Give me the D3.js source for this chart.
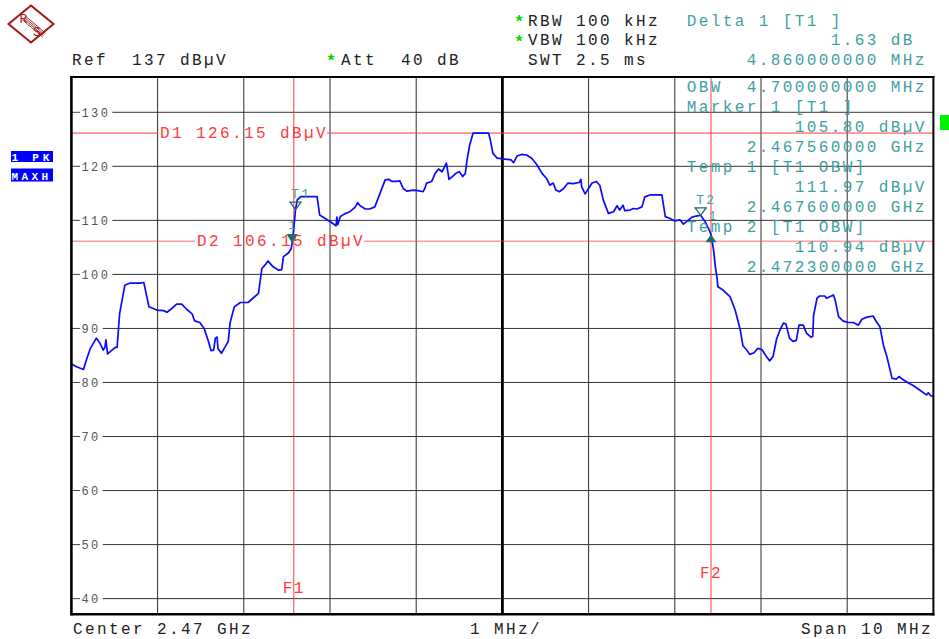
<!DOCTYPE html>
<html><head><meta charset="utf-8">
<script src="https://cdn.jsdelivr.net/npm/d3@7"></script>
<style>
body{margin:0;background:#fff;}
svg{display:block;}
text{font-family:"Liberation Mono","DejaVu Sans Mono",monospace;white-space:pre;}
</style></head><body>
<svg id="c" width="949" height="639"></svg>
<script>
// Trace 1 (1 PK, MAXH): frequency offset from the 2465 MHz start, in MHz
const freqMHz = [
  0.00,0.06,0.14,0.18,0.22,0.29,0.33,0.37,0.39,0.40,
  0.42,0.45,0.51,0.53,0.56,0.62,0.68,0.80,0.84,0.90,
  0.99,1.07,1.11,1.15,1.22,1.28,1.34,1.40,1.43,1.49,
  1.54,1.59,1.62,1.65,1.67,1.69,1.70,1.74,1.78,1.82,
  1.84,1.89,1.96,2.05,2.17,2.21,2.25,2.28,2.34,2.40,
  2.44,2.46,2.52,2.55,2.56,2.58,2.60,2.62,2.66,2.85,
  2.88,2.94,3.00,3.07,3.08,3.09,3.12,3.17,3.23,3.29,
  3.32,3.35,3.41,3.46,3.52,3.58,3.64,3.68,3.72,3.77,
  3.81,3.85,3.89,3.97,4.02,4.08,4.10,4.12,4.18,4.22,
  4.26,4.30,4.32,4.35,4.37,4.38,4.42,4.46,4.50,4.54,
  4.57,4.59,4.62,4.66,4.84,4.86,4.89,4.94,5.05,5.10,
  5.13,5.17,5.22,5.28,5.34,5.40,5.46,5.51,5.55,5.59,
  5.62,5.66,5.71,5.76,5.82,5.89,5.91,5.92,5.96,6.00,
  6.04,6.09,6.13,6.17,6.23,6.29,6.33,6.36,6.40,6.42,
  6.48,6.52,6.56,6.62,6.65,6.71,6.85,6.89,6.94,7.00,
  7.06,7.10,7.14,7.20,7.25,7.30,7.35,7.39,7.42,7.45,
  7.47,7.49,7.50,7.56,7.64,7.70,7.76,7.79,7.83,7.87,
  7.92,7.96,8.01,8.05,8.10,8.14,8.18,8.22,8.26,8.29,
  8.33,8.37,8.41,8.44,8.49,8.53,8.58,8.60,8.61,8.65,
  8.68,8.74,8.76,8.84,8.86,8.90,8.95,9.01,9.07,9.13,
  9.17,9.23,9.30,9.34,9.38,9.42,9.46,9.52,9.57,9.60,
  9.65,9.71,9.77,9.84,9.92,9.94,9.97,10.00
];
// Trace 1 level in dBµV
const levelDbuv = [
  83.4,82.9,82.4,84.5,86.3,88.2,87.3,86.0,86.6,87.9,
  85.3,85.7,86.5,86.5,92.8,98.0,98.4,98.4,98.5,94.0,
  93.4,93.3,93.0,93.5,94.5,94.5,93.5,92.7,91.4,91.1,
  90.0,87.6,85.9,86.0,88.2,88.4,86.3,85.4,86.5,87.6,
  91.0,94.0,94.8,94.8,96.5,101.1,101.8,102.5,101.4,100.8,
  100.9,103.3,104.0,104.8,105.8,108.5,111.97,113.8,114.4,114.4,
  111.0,110.4,109.8,109.0,110.6,109.2,110.7,111.2,111.6,112.4,
  113.3,112.7,112.1,112.1,112.5,115.0,117.5,117.6,117.2,117.2,
  117.3,115.9,115.4,115.6,115.5,115.3,115.9,116.9,117.2,118.7,
  119.5,119.0,119.6,120.6,118.7,117.6,118.1,118.7,119.0,118.1,
  118.7,121.2,123.9,126.15,126.15,124.9,122.4,121.5,121.3,121.2,
  120.7,121.9,122.2,122.1,121.5,120.3,118.7,117.8,116.5,116.9,
  115.6,115.3,115.9,116.9,116.8,117.0,117.6,116.2,114.9,115.9,
  116.9,117.2,116.5,113.8,111.3,111.6,112.7,111.9,112.8,111.8,
  111.9,112.2,112.1,112.5,114.3,114.7,114.7,110.7,110.4,109.9,
  110.1,109.3,109.8,110.6,110.8,110.94,109.8,108.5,107.43,104.5,
  101.5,99.3,97.7,97.1,95.9,93.4,89.7,86.8,86.1,85.2,
  85.5,86.3,86.1,85.1,84.0,84.8,88.0,89.7,91.0,90.8,
  88.2,87.6,87.8,90.6,90.6,89.1,88.4,88.5,92.4,95.6,
  96.0,96.0,95.6,96.2,95.3,92.2,91.4,91.1,91.1,90.6,
  91.7,92.1,92.3,91.2,90.3,86.9,84.8,80.8,80.6,81.1,
  80.5,79.9,79.4,78.6,77.7,78.1,77.5,77.5
];

// Level axis labels (dBµV) and frequency divisions (MHz from start)
const yTicks = [130,120,110,100,90,80,70,60,50,40];
const xDivisions = [0,1,2,3,4,5,6,7,8,9,10];
const startGHz = 2.465;

// Display lines (dBµV) and frequency lines (GHz)
const displayLineNames = ["D1","D2"];
const displayLineLevels = [126.15,106.15];
const freqLineNames = ["F1","F2"];
const freqLineGHz = [2.46758,2.47242];

// Temporary OBW markers
const tempMarkerNames = ["T1","T2"];
const tempMarkerGHz = [2.4676,2.4723];
const tempMarkerLevels = [111.97,110.94];
// Marker 1 and delta marker 1
const marker1GHz = 2.46756, marker1Level = 105.80;
const delta1MHz = 4.86, delta1dB = 1.63;

const svg = d3.select("#c");
const plot = {left:71.4, right:933.4, top:77, bottom:614.3};
const x = d3.scaleLinear().domain([0,10]).range([plot.left,plot.right]);
const y = d3.scaleLinear().domain([37.1,136.53]).range([plot.bottom,plot.top]);
const ghzToOffset = g => (g - startGHz) * 1000;

const teal = "#3f9f9f", tealDark = "#1f6b6b", red = "#ff3a3a", ink = "#222";

// ---------- grid ----------
const grid = svg.append("g");
grid.selectAll("line.v").data(xDivisions.filter(d => d > 0 && d < 10 && d !== 5))
  .join("line").attr("class","v")
  .attr("x1", d => x(d)).attr("x2", d => x(d))
  .attr("y1", plot.top).attr("y2", plot.bottom)
  .attr("stroke","#2e2e2e").attr("stroke-width",1);

const tickG = grid.append("g");
yTicks.forEach(t => {
  const yy = y(t);
  tickG.append("line").attr("x1",plot.left).attr("x2",80).attr("y1",yy).attr("y2",yy)
    .attr("stroke","#444").attr("stroke-width",1);
  const lbl = tickG.append("text").attr("x",81.5).attr("y",yy+4.3)
    .attr("font-size",12).attr("letter-spacing",2.4).attr("fill","#555").text(t);
  const end = 81.5 + lbl.node().getComputedTextLength();
  tickG.append("line").attr("x1",end+2).attr("x2",plot.right).attr("y1",yy).attr("y2",yy)
    .attr("stroke","#333").attr("stroke-width",1);
});

// center division line
svg.append("line").attr("x1",x(5)).attr("x2",x(5)).attr("y1",plot.top).attr("y2",plot.bottom)
  .attr("stroke","#000").attr("stroke-width",2.8);

// ---------- frequency lines ----------
freqLineGHz.forEach((g,i) => {
  const xx = x(ghzToOffset(g));
  svg.append("line").attr("x1",xx).attr("x2",xx).attr("y1",plot.top).attr("y2",plot.bottom)
    .attr("stroke",red).attr("stroke-width",1);
});
svg.append("text").attr("x",x(ghzToOffset(freqLineGHz[0]))).attr("y",593)
  .attr("text-anchor","middle").attr("font-size",16).attr("letter-spacing",1.5)
  .attr("fill",red).text(freqLineNames[0]);
svg.append("text").attr("x",x(ghzToOffset(freqLineGHz[1]))).attr("y",578)
  .attr("text-anchor","middle").attr("font-size",16).attr("letter-spacing",1.5)
  .attr("fill",red).text(freqLineNames[1]);

// ---------- display lines ----------
const dLabelX = [160,197];
displayLineLevels.forEach((lv,i) => {
  const yy = y(lv);
  const t = svg.append("text").attr("x",dLabelX[i]).attr("y",yy+5)
    .attr("font-size",16).attr("letter-spacing",2.4).attr("fill",red)
    .text(`${displayLineNames[i]} ${lv.toFixed(2)} dBµV`);
  const end = dLabelX[i] + t.node().getComputedTextLength();
  svg.append("line").attr("x1",plot.left).attr("x2",dLabelX[i]-2).attr("y1",yy).attr("y2",yy)
    .attr("stroke",red).attr("stroke-width",1).attr("opacity", i ? 0.75 : 1);
  svg.append("line").attr("x1",end-1).attr("x2",plot.right).attr("y1",yy).attr("y2",yy)
    .attr("stroke",red).attr("stroke-width",1).attr("opacity", i ? 0.75 : 1);
});

// ---------- trace ----------
svg.append("clipPath").attr("id","plotClip").append("rect")
  .attr("x",plot.left).attr("y",plot.top).attr("width",plot.right-plot.left).attr("height",plot.bottom-plot.top);
const pts = freqMHz.map((f,i) => [f, levelDbuv[i]]);
svg.append("path").datum(pts)
  .attr("clip-path","url(#plotClip)")
  .attr("d", d3.line().x(d => x(d[0])).y(d => y(d[1])))
  .attr("fill","none").attr("stroke","#0a0aff").attr("stroke-width",1.7)
  .attr("stroke-linejoin","round");

// ---------- markers ----------
const downTri = (cx,tip,w,h) => `M${cx-w/2},${tip-h}L${cx+w/2},${tip-h}L${cx},${tip}Z`;
const upTri = (cx,tip,w,h) => `M${cx},${tip}L${cx+w/2},${tip+h}L${cx-w/2},${tip+h}Z`;

tempMarkerGHz.forEach((g,i) => {
  const cx = x(ghzToOffset(g)), tip = y(tempMarkerLevels[i]);
  svg.append("path").attr("d",downTri(cx,tip,11,7.5))
    .attr("fill","none").attr("stroke",tealDark).attr("stroke-width",1.3);
  svg.append("text").attr("x",cx-4.5).attr("y",tip-11.5)
    .attr("font-size",13).attr("letter-spacing",2.4).attr("fill",teal).text(tempMarkerNames[i]);
});
{
  const cx = x(ghzToOffset(marker1GHz)), tip = y(marker1Level);
  svg.append("path").attr("d",downTri(cx,tip,11,9)).attr("fill",tealDark);
  svg.append("text").attr("x",cx).attr("y",tip-14).attr("text-anchor","middle")
    .attr("font-size",12).attr("fill",teal).text("1");
}
{
  const cx = x(ghzToOffset(marker1GHz) + delta1MHz), tip = y(marker1Level + delta1dB);
  svg.append("path").attr("d",upTri(cx,tip,11,8)).attr("fill",tealDark);
  svg.append("text").attr("x",cx+1.5).attr("y",tip-14.5).attr("text-anchor","middle")
    .attr("font-size",12).attr("fill",teal).text("1");
}

// ---------- frame ----------
const frame = svg.append("g").attr("stroke","#000");
frame.append("line").attr("x1",plot.left).attr("x2",plot.left).attr("y1",plot.top-1).attr("y2",plot.bottom+1.2).attr("stroke-width",2.6);
frame.append("line").attr("x1",plot.right).attr("x2",plot.right).attr("y1",plot.top-1).attr("y2",plot.bottom+1.2).attr("stroke-width",2);
frame.append("line").attr("x1",plot.left).attr("x2",plot.right+1).attr("y1",plot.top).attr("y2",plot.top).attr("stroke-width",2);
frame.append("line").attr("x1",plot.left).attr("x2",plot.right+1).attr("y1",plot.bottom).attr("y2",plot.bottom).attr("stroke-width",2.6);

// ---------- header / footer text ----------
const txt = (xx,yy,s,fill,size=16,ls=2.4) => svg.append("text").attr("x",xx).attr("y",yy)
  .attr("font-size",size).attr("letter-spacing",ls).attr("fill",fill).text(s);
const star = (xx,yy) => svg.append("text").attr("x",xx).attr("y",yy)
  .attr("font-family","DejaVu Sans").attr("font-size",17).attr("font-weight","bold")
  .attr("fill","#00d800").text("*");

star(514,27); txt(528,25.5,"RBW 100 kHz",ink);
star(514,46.5); txt(528,45,"VBW 100 kHz",ink);
txt(528,64.5,"SWT 2.5 ms",ink);
txt(72,64.5,"Ref  137 dBµV",ink);
star(326,66); txt(341,64.5,"Att  40 dB",ink);

const col = c => 686.7 + c*12;
txt(col(0),25.5,"Delta 1 [T1 ]",teal);
txt(col(12),45,`${delta1dB.toFixed(2)} dB`,teal);
txt(col(5),64.5,"4.860000000 MHz",teal);

const panel = [
  [0,"OBW  4.700000000 MHz"],
  [0,"Marker 1 [T1 ]"],
  [9,`${marker1Level.toFixed(2)} dBµV`],
  [5,"2.467560000 GHz"],
  [0,"Temp 1 [T1 OBW]"],
  [9,`${tempMarkerLevels[0].toFixed(2)} dBµV`],
  [5,"2.467600000 GHz"],
  [0,"Temp 2 [T1 OBW]"],
  [9,`${tempMarkerLevels[1].toFixed(2)} dBµV`],
  [5,"2.472300000 GHz"]
];
panel.forEach((p,i) => txt(col(p[0]),92+20*i,p[1],teal));

txt(73,634,"Center 2.47 GHz",ink);
txt(470,634,"1 MHz/",ink);
txt(801,634,"Span 10 MHz",ink);

// ---------- trace badges ----------
svg.append("rect").attr("x",11).attr("y",151).attr("width",42).attr("height",11).attr("fill","#0000ff");
svg.append("rect").attr("x",11).attr("y",168.5).attr("width",42).attr("height",13).attr("fill","#0000ff");
txt(11.5,161,"1 PK","#fff",11,3.8).attr("font-weight","bold");
txt(11.5,179.5,"MAXH","#fff",11,3.4).attr("font-weight","bold");

// status indicator
svg.append("rect").attr("x",940).attr("y",115).attr("width",9).attr("height",15).attr("fill","#00f000");

// ---------- logo ----------
const logoRed = "#a01818";
const logo = svg.append("g").attr("stroke",logoRed).attr("fill","none");
logo.append("path").attr("d","M31,5.5L53.5,24L31,42.5L8.5,24Z").attr("stroke-width",2);
[-2.4,-0.8,0.8,2.4].forEach(k => {
  const nx = -0.64*k, ny = 0.77*k;
  logo.append("line").attr("x1",24+nx).attr("y1",18+ny).attr("x2",44+nx).attr("y2",35+ny).attr("stroke-width",0.9);
});
svg.append("text").attr("x",23.5).attr("y",23).attr("text-anchor","middle")
  .attr("font-family","Liberation Sans").attr("font-size",13).attr("fill",logoRed).text("R");
svg.append("text").attr("x",37).attr("y",36).attr("text-anchor","middle")
  .attr("font-family","Liberation Sans").attr("font-size",13).attr("fill",logoRed).text("S");
</script>
</body></html>
